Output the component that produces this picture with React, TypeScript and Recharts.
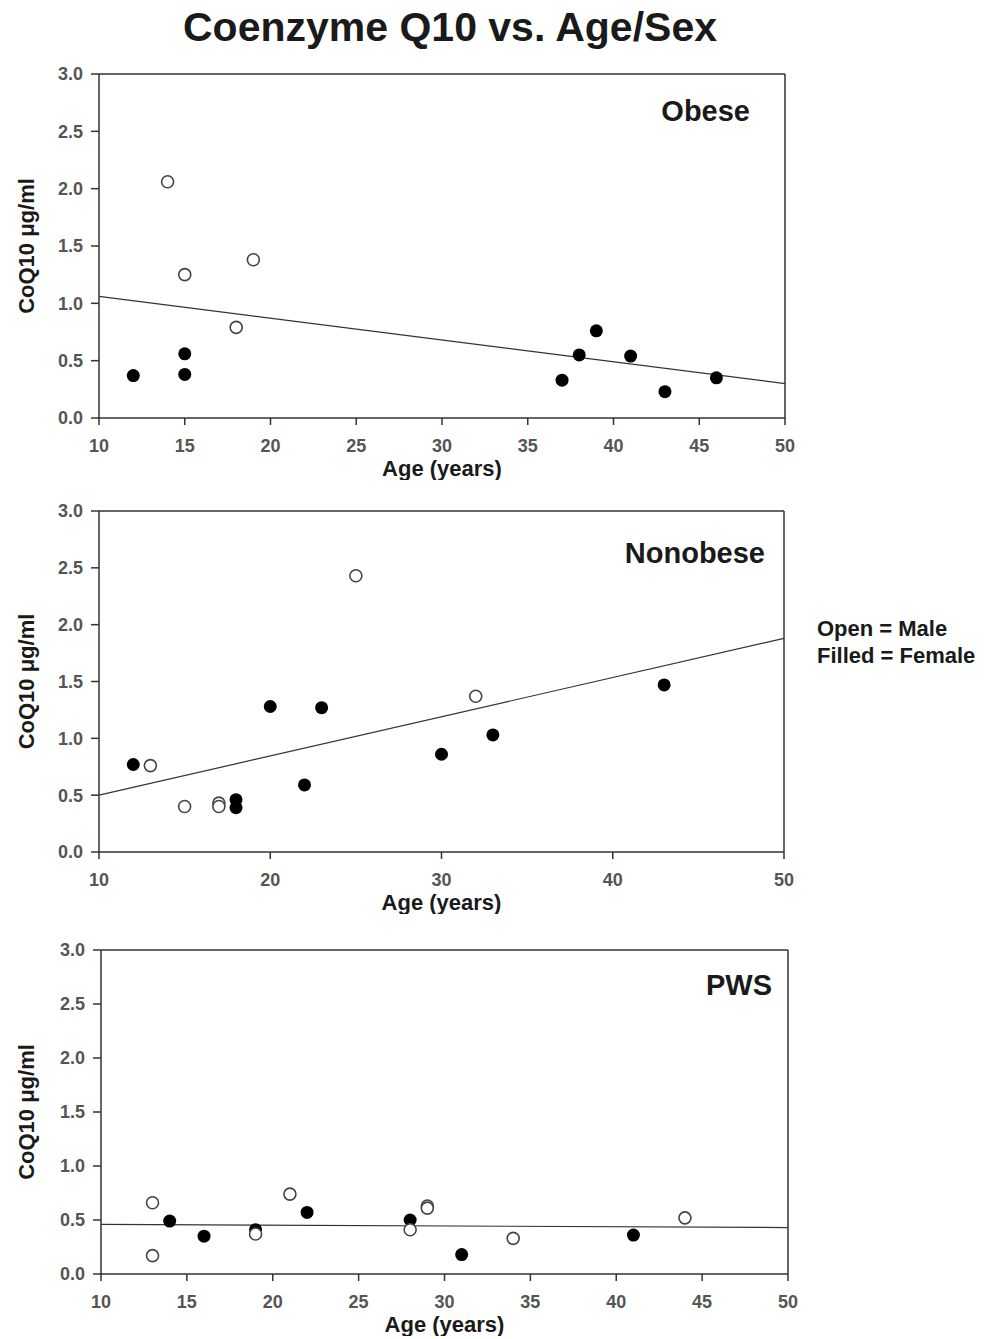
import React from "react";
import { ScatterChart, Scatter, XAxis, YAxis, ReferenceLine, Label } from "recharts";

type Pt = { age: number; coq10: number };

// Obese
const obeseMale: Pt[] = [
  { age: 14, coq10: 2.06 },
  { age: 15, coq10: 1.25 },
  { age: 18, coq10: 0.79 },
  { age: 19, coq10: 1.38 },
];
const obeseFemale: Pt[] = [
  { age: 12, coq10: 0.37 },
  { age: 15, coq10: 0.56 },
  { age: 15, coq10: 0.38 },
  { age: 37, coq10: 0.33 },
  { age: 38, coq10: 0.55 },
  { age: 39, coq10: 0.76 },
  { age: 41, coq10: 0.54 },
  { age: 43, coq10: 0.23 },
  { age: 46, coq10: 0.35 },
];
const obeseFit: Pt[] = [
  { age: 10, coq10: 1.06 },
  { age: 50, coq10: 0.3 },
];

// Nonobese
const nonobeseMale: Pt[] = [
  { age: 13, coq10: 0.76 },
  { age: 15, coq10: 0.4 },
  { age: 17, coq10: 0.43 },
  { age: 17, coq10: 0.4 },
  { age: 25, coq10: 2.43 },
  { age: 32, coq10: 1.37 },
];
const nonobeseFemale: Pt[] = [
  { age: 12, coq10: 0.77 },
  { age: 18, coq10: 0.46 },
  { age: 18, coq10: 0.39 },
  { age: 20, coq10: 1.28 },
  { age: 22, coq10: 0.59 },
  { age: 23, coq10: 1.27 },
  { age: 30, coq10: 0.86 },
  { age: 33, coq10: 1.03 },
  { age: 43, coq10: 1.47 },
];
const nonobeseFit: Pt[] = [
  { age: 10, coq10: 0.5 },
  { age: 50, coq10: 1.88 },
];

// PWS
const pwsMale: Pt[] = [
  { age: 13, coq10: 0.66 },
  { age: 13, coq10: 0.17 },
  { age: 19, coq10: 0.37 },
  { age: 21, coq10: 0.74 },
  { age: 28, coq10: 0.41 },
  { age: 29, coq10: 0.63 },
  { age: 29, coq10: 0.61 },
  { age: 34, coq10: 0.33 },
  { age: 44, coq10: 0.52 },
];
const pwsFemale: Pt[] = [
  { age: 14, coq10: 0.49 },
  { age: 16, coq10: 0.35 },
  { age: 19, coq10: 0.41 },
  { age: 22, coq10: 0.57 },
  { age: 28, coq10: 0.5 },
  { age: 31, coq10: 0.18 },
  { age: 41, coq10: 0.36 },
];
const pwsFit: Pt[] = [
  { age: 10, coq10: 0.46 },
  { age: 50, coq10: 0.43 },
];

const yTicks = [0, 0.5, 1, 1.5, 2, 2.5, 3];
const xTicksBy5 = [10, 15, 20, 25, 30, 35, 40, 45, 50];
const xTicksBy10 = [10, 20, 30, 40, 50];

const FONT = '"Liberation Sans", Arial, Helvetica, sans-serif';
const INK = "#1a1a1a";
const AXIS = "#333";

const OpenDot = (p: any) => (
  <circle cx={p.cx} cy={p.cy} r={6} fill="#fff" stroke="#444" strokeWidth={1.6} />
);
const FilledDot = (p: any) => <circle cx={p.cx} cy={p.cy} r={6.5} fill="#000" />;

type PanelProps = {
  top: number;
  plotTop: number;
  plotBottom: number;
  plotLeft: number;
  plotRight: number;
  male: Pt[];
  female: Pt[];
  fit: Pt[];
  xTicks: number[];
};

function Panel({ top, plotTop, plotBottom, plotLeft, plotRight, male, female, fit, xTicks }: PanelProps) {
  const width = 800;
  const xAxisH = 62;
  const height = plotBottom - top + xAxisH;
  const tickStyle = { fill: "#555", fontSize: 18, fontWeight: 700, fontFamily: FONT };
  const labelStyle = { fill: INK, fontSize: 22, fontWeight: 700, fontFamily: FONT };
  return (
    <div style={{ position: "absolute", left: 0, top }}>
      <ScatterChart
        width={width}
        height={height}
        margin={{ top: plotTop - top, right: width - plotRight, bottom: 0, left: 0 }}
      >
        <XAxis
          type="number"
          dataKey="age"
          domain={[10, 50]}
          ticks={xTicks}
          allowDataOverflow
          height={xAxisH}
          tickSize={7}
          tickMargin={14}
          stroke={AXIS}
          strokeWidth={1.5}
          tick={tickStyle}
        >
          <Label value="Age (years)" position="insideBottom" offset={4} style={labelStyle} />
        </XAxis>
        <YAxis
          type="number"
          dataKey="coq10"
          domain={[0, 3]}
          ticks={yTicks}
          allowDataOverflow
          tickFormatter={(v: number) => v.toFixed(1)}
          width={plotLeft}
          tickSize={8}
          tickMargin={8}
          stroke={AXIS}
          strokeWidth={1.5}
          tick={tickStyle}
        >
          <Label
            value="CoQ10 μg/ml"
            angle={-90}
            position="insideLeft"
            offset={26}
            style={{ ...labelStyle, textAnchor: "middle" }}
          />
        </YAxis>
        <ReferenceLine y={3} stroke={AXIS} strokeWidth={1.5} />
        <ReferenceLine x={50} stroke={AXIS} strokeWidth={1.5} />
        <ReferenceLine
          segment={fit.map((p) => ({ x: p.age, y: p.coq10 }))}
          stroke="#333"
          strokeWidth={1.2}
        />
        <Scatter data={female} shape={FilledDot} isAnimationActive={false} />
        <Scatter data={male} shape={OpenDot} isAnimationActive={false} />
      </ScatterChart>
    </div>
  );
}

export default function App() {
  const bold = { fontFamily: FONT, fontWeight: 700, fill: INK };
  return (
    <div style={{ position: "absolute", left: 0, top: 0, width: 985, height: 1338, background: "#fff" }}>
      <Panel
        top={0}
        plotTop={74}
        plotBottom={418}
        plotLeft={99}
        plotRight={785}
        male={obeseMale}
        female={obeseFemale}
        fit={obeseFit}
        xTicks={xTicksBy5}
      />
      <Panel
        top={440}
        plotTop={511}
        plotBottom={852}
        plotLeft={99}
        plotRight={784}
        male={nonobeseMale}
        female={nonobeseFemale}
        fit={nonobeseFit}
        xTicks={xTicksBy10}
      />
      <Panel
        top={880}
        plotTop={950}
        plotBottom={1274}
        plotLeft={101}
        plotRight={788}
        male={pwsMale}
        female={pwsFemale}
        fit={pwsFit}
        xTicks={xTicksBy5}
      />
      <svg
        width={985}
        height={1000}
        style={{ position: "absolute", left: 0, top: 0, pointerEvents: "none" }}
      >
        <text x={450} y={41} textAnchor="middle" fontSize={41} {...bold}>
          Coenzyme Q10 vs. Age/Sex
        </text>
        <text x={750} y={121} textAnchor="end" fontSize={29} {...bold}>
          Obese
        </text>
        <text x={765} y={563} textAnchor="end" fontSize={29} {...bold}>
          Nonobese
        </text>
        <text x={772} y={995} textAnchor="end" fontSize={29} {...bold}>
          PWS
        </text>
        <text x={817} y={636} fontSize={22} {...bold}>
          Open = Male
        </text>
        <text x={817} y={663} fontSize={22} {...bold}>
          Filled = Female
        </text>
      </svg>
    </div>
  );
}
